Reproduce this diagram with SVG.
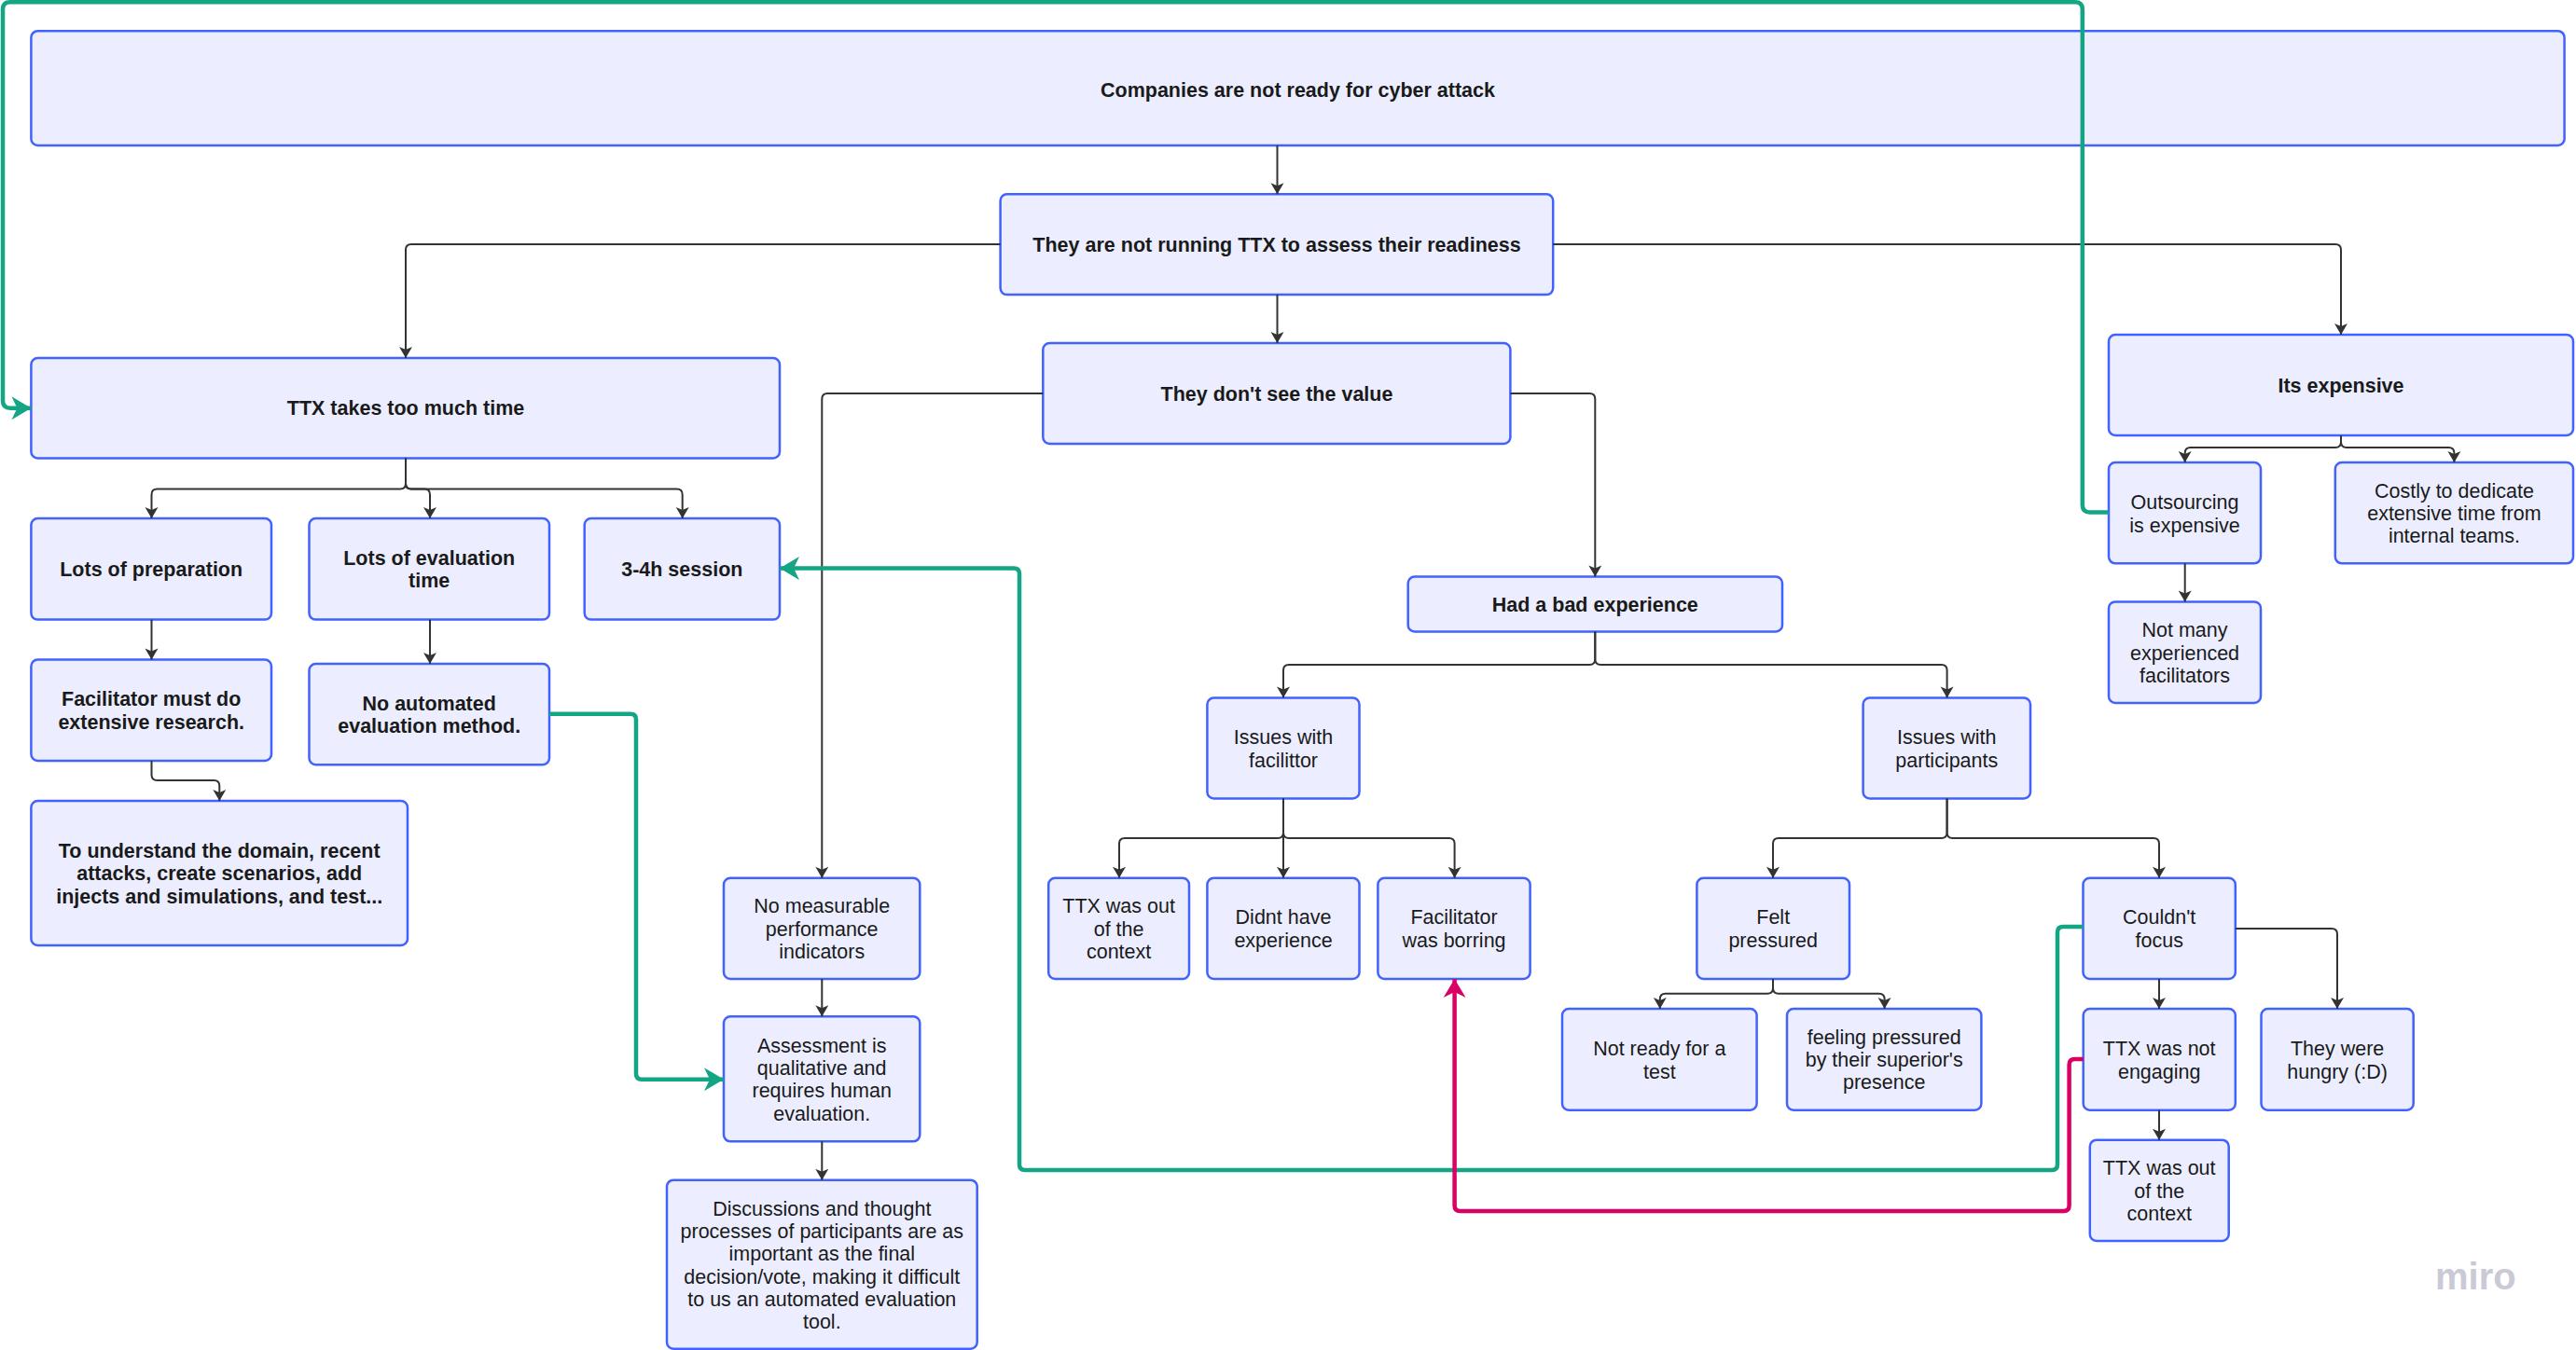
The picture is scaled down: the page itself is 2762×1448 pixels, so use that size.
<svg xmlns="http://www.w3.org/2000/svg" width="2762" height="1448" viewBox="0 0 2762 1448">
<style>
.n{fill:#ECEEFF;stroke:#4262FF;stroke-width:2.5}
.t{font-family:"Liberation Sans",Arial,sans-serif;font-size:21.5px;fill:#1a1a1a;text-anchor:middle}
.b{font-weight:bold}
.c{fill:none;stroke:#333;stroke-width:2;marker-end:url(#ar)}
.g{fill:none;stroke:#13A584;stroke-width:4.5;marker-end:url(#ag)}
.p{fill:none;stroke:#DB0065;stroke-width:4.5;marker-end:url(#ap)}
</style>
<defs>
<marker id="ar" viewBox="-13 -8 14 16" refX="0" refY="0" markerWidth="14" markerHeight="16" markerUnits="userSpaceOnUse" orient="auto"><path d="M0,0 L-12,-7 L-9,0 L-12,7 Z" fill="#333"/></marker>
<marker id="ag" viewBox="-22 -13 23 26" refX="0" refY="0" markerWidth="23" markerHeight="26" markerUnits="userSpaceOnUse" orient="auto"><path d="M0,0 L-21,-12.5 L-15,0 L-21,12.5 Z" fill="#13A584"/></marker>
<marker id="ap" viewBox="-22 -13 23 26" refX="0" refY="0" markerWidth="23" markerHeight="26" markerUnits="userSpaceOnUse" orient="auto"><path d="M0,0 L-20,-12 L-14,0 L-20,12 Z" fill="#DB0065"/></marker>
</defs>
<rect width="2762" height="1448" fill="#fff"/>
<g id="nodes">
<g id="n1"><rect class="n" x="33.4" y="33.2" width="2716.2" height="122.7" rx="7"/><text class="t b" x="1391.5" y="103.6">Companies are not ready for cyber attack</text></g>
<g id="n2"><rect class="n" x="1072.6" y="208.3" width="592.6" height="107.8" rx="7"/><text class="t b" x="1369" y="269.6">They are not running TTX to assess their readiness</text></g>
<g id="n3"><rect class="n" x="33.4" y="384" width="802.6" height="107.5" rx="7"/><text class="t b" x="435" y="444.6">TTX takes too much time</text></g>
<g id="n4"><rect class="n" x="1118.3" y="368" width="501.1" height="108" rx="7"/><text class="t b" x="1369" y="429.6">They don't see the value</text></g>
<g id="n5"><rect class="n" x="2261" y="359" width="498" height="108" rx="7"/><text class="t b" x="2510" y="420.6">Its expensive</text></g>
<g id="n6"><rect class="n" x="33.4" y="556" width="257.6" height="108.6" rx="7"/><text class="t b" x="162.2" y="617.6">Lots of preparation</text></g>
<g id="n7"><rect class="n" x="331.5" y="556" width="257.5" height="108.6" rx="7"/><text class="t b" x="460.2" y="605.5">Lots of evaluation<tspan x="460.2" dy="24.3">time</tspan></text></g>
<g id="n8"><rect class="n" x="626.7" y="556" width="209.3" height="108.6" rx="7"/><text class="t b" x="731.3" y="617.6">3-4h session</text></g>
<g id="n9"><rect class="n" x="33.4" y="707.5" width="257.6" height="108.4" rx="7"/><text class="t b" x="162.2" y="757.2">Facilitator must do<tspan x="162.2" dy="24.3">extensive research.</tspan></text></g>
<g id="n10"><rect class="n" x="331.5" y="712" width="257.5" height="108.2" rx="7"/><text class="t b" x="460.2" y="761.5">No automated<tspan x="460.2" dy="24.3">evaluation method.</tspan></text></g>
<g id="n11"><rect class="n" x="33.4" y="859" width="403.6" height="155" rx="7"/><text class="t b" x="235.2" y="920">To understand the domain, recent<tspan x="235.2" dy="24.3">attacks, create scenarios, add</tspan><tspan x="235.2" dy="24.3">injects and simulations, and test...</tspan></text></g>
<g id="n12"><rect class="n" x="1509.7" y="618.6" width="401.3" height="58.9" rx="7"/><text class="t b" x="1710.3" y="655.6">Had a bad experience</text></g>
<g id="n13"><rect class="n" x="2261" y="496" width="163" height="108.3" rx="7"/><text class="t" x="2342.5" y="546.2">Outsourcing<tspan x="2342.5" dy="24.3">is expensive</tspan></text></g>
<g id="n14"><rect class="n" x="2503.8" y="496" width="255.2" height="108.3" rx="7"/><text class="t" x="2631.4" y="533.5">Costly to dedicate<tspan x="2631.4" dy="24.3">extensive time from</tspan><tspan x="2631.4" dy="24.3">internal teams.</tspan></text></g>
<g id="n15"><rect class="n" x="2261" y="645.4" width="163" height="108.6" rx="7"/><text class="t" x="2342.5" y="683.3">Not many<tspan x="2342.5" dy="24.3">experienced</tspan><tspan x="2342.5" dy="24.3">facilitators</tspan></text></g>
<g id="n16"><rect class="n" x="1294.4" y="748.6" width="163.1" height="107.8" rx="7"/><text class="t" x="1376" y="798.2">Issues with<tspan x="1376" dy="24.3">facilittor</tspan></text></g>
<g id="n17"><rect class="n" x="1997.6" y="748.6" width="179.4" height="107.8" rx="7"/><text class="t" x="2087.3" y="798.2">Issues with<tspan x="2087.3" dy="24.3">participants</tspan></text></g>
<g id="n18"><rect class="n" x="776" y="941.8" width="210.3" height="108.2" rx="7"/><text class="t" x="881.2" y="979.4">No measurable<tspan x="881.2" dy="24.3">performance</tspan><tspan x="881.2" dy="24.3">indicators</tspan></text></g>
<g id="n19"><rect class="n" x="1124.2" y="941.8" width="150.8" height="108.2" rx="7"/><text class="t" x="1199.6" y="979.4">TTX was out<tspan x="1199.6" dy="24.3">of the</tspan><tspan x="1199.6" dy="24.3">context</tspan></text></g>
<g id="n20"><rect class="n" x="1294.4" y="941.8" width="163.1" height="108.2" rx="7"/><text class="t" x="1376" y="991.4">Didnt have<tspan x="1376" dy="24.3">experience</tspan></text></g>
<g id="n21"><rect class="n" x="1477.4" y="941.8" width="163.2" height="108.2" rx="7"/><text class="t" x="1559" y="991.4">Facilitator<tspan x="1559" dy="24.3">was borring</tspan></text></g>
<g id="n22"><rect class="n" x="1819.4" y="941.8" width="163.6" height="108.2" rx="7"/><text class="t" x="1901.2" y="991.4">Felt<tspan x="1901.2" dy="24.3">pressured</tspan></text></g>
<g id="n23"><rect class="n" x="2233.5" y="941.8" width="163.3" height="108.2" rx="7"/><text class="t" x="2315.2" y="991.4">Couldn't<tspan x="2315.2" dy="24.3">focus</tspan></text></g>
<g id="n24"><rect class="n" x="776" y="1090.3" width="210.3" height="134" rx="7"/><text class="t" x="881.2" y="1128.8">Assessment is<tspan x="881.2" dy="24.3">qualitative and</tspan><tspan x="881.2" dy="24.3">requires human</tspan><tspan x="881.2" dy="24.3">evaluation.</tspan></text></g>
<g id="n25"><rect class="n" x="1675" y="1082" width="208.6" height="108.7" rx="7"/><text class="t" x="1779.3" y="1132.2">Not ready for a<tspan x="1779.3" dy="24.3">test</tspan></text></g>
<g id="n26"><rect class="n" x="1916" y="1082" width="208.4" height="108.7" rx="7"/><text class="t" x="2020.2" y="1119.8">feeling pressured<tspan x="2020.2" dy="24.3">by their superior's</tspan><tspan x="2020.2" dy="24.3">presence</tspan></text></g>
<g id="n27"><rect class="n" x="2233.7" y="1082" width="163.1" height="108.7" rx="7"/><text class="t" x="2315.2" y="1132.2">TTX was not<tspan x="2315.2" dy="24.3">engaging</tspan></text></g>
<g id="n28"><rect class="n" x="2424.5" y="1082" width="163.2" height="108.7" rx="7"/><text class="t" x="2506.1" y="1132.2">They were<tspan x="2506.1" dy="24.3">hungry (:D)</tspan></text></g>
<g id="n29"><rect class="n" x="715" y="1265.7" width="332.7" height="181" rx="7"/><text class="t" x="881.3" y="1303.6">Discussions and thought<tspan x="881.3" dy="24.3">processes of participants are as</tspan><tspan x="881.3" dy="24.3">important as the final</tspan><tspan x="881.3" dy="24.3">decision/vote, making it difficult</tspan><tspan x="881.3" dy="24.3">to us an automated evaluation</tspan><tspan x="881.3" dy="24.3">tool.</tspan></text></g>
<g id="n30"><rect class="n" x="2240.8" y="1222.7" width="148.9" height="108.3" rx="7"/><text class="t" x="2315.2" y="1260.4">TTX was out<tspan x="2315.2" dy="24.3">of the</tspan><tspan x="2315.2" dy="24.3">context</tspan></text></g>
</g>
<g id="connectors">
<path class="c" d="M1369.5,156 V208.3"/>
<path class="c" d="M1072.6,262 H441 Q435,262 435,268 V384"/>
<path class="c" d="M1369.5,316 V368"/>
<path class="c" d="M1665.2,262 H2504 Q2510,262 2510,268 V359"/>
<path class="c" d="M435,491.5 V518.6 Q435,524.6 429,524.6 H168.5 Q162.5,524.6 162.5,530.6 V556"/>
<path class="c" d="M435,491.5 V518.6 Q435,524.6 441,524.6 H455 Q461,524.6 461,530.6 V556"/>
<path class="c" d="M435,491.5 V518.6 Q435,524.6 441,524.6 H725.7 Q731.7,524.6 731.7,530.6 V556"/>
<path class="c" d="M162.5,664.6 V707.5"/>
<path class="c" d="M461,664.6 V712"/>
<path class="c" d="M162.5,815.9 V831 Q162.5,837 168.5,837 H229.3 Q235.3,837 235.3,843 V859"/>
<path class="c" d="M1118.3,422 H887.3 Q881.3,422 881.3,428 V941.8"/>
<path class="c" d="M1619.4,422 H1704.3 Q1710.3,422 1710.3,428 V618.6"/>
<path class="c" d="M1710.3,677.5 V707 Q1710.3,713 1704.3,713 H1382 Q1376,713 1376,719 V748.6"/>
<path class="c" d="M1710.3,677.5 V707 Q1710.3,713 1716.3,713 H2081.6 Q2087.6,713 2087.6,719 V748.6"/>
<path class="c" d="M1376,856.4 V893 Q1376,899 1370,899 H1206 Q1200,899 1200,905 V941.8"/>
<path class="c" d="M1376,856.4 V941.8"/>
<path class="c" d="M1376,856.4 V893 Q1376,899 1382,899 H1553.6 Q1559.6,899 1559.6,905 V941.8"/>
<path class="c" d="M2087.6,856.4 V893 Q2087.6,899 2081.6,899 H1907 Q1901,899 1901,905 V941.8"/>
<path class="c" d="M2087.6,856.4 V893 Q2087.6,899 2093.6,899 H2309 Q2315,899 2315,905 V941.8"/>
<path class="c" d="M2510,467 V474 Q2510,480 2504,480 H2348.7 Q2342.7,480 2342.7,486 V496"/>
<path class="c" d="M2510,467 V474 Q2510,480 2516,480 H2625.4 Q2631.4,480 2631.4,486 V496"/>
<path class="c" d="M2342.7,604.3 V645.4"/>
<path class="c" d="M881.3,1050 V1090.3"/>
<path class="c" d="M881.3,1224.3 V1265.7"/>
<path class="c" d="M1901,1050 V1059.7 Q1901,1065.7 1895,1065.7 H1785.8 Q1779.8,1065.7 1779.8,1071.7 V1082"/>
<path class="c" d="M1901,1050 V1059.7 Q1901,1065.7 1907,1065.7 H2014.6 Q2020.6,1065.7 2020.6,1071.7 V1082"/>
<path class="c" d="M2315,1050 V1082"/>
<path class="c" d="M2396.8,996 H2500 Q2506,996 2506,1002 V1082"/>
<path class="c" d="M2315,1190.7 V1222.7"/>
<path class="g" d="M2261,549.6 H2240.8 Q2232.8,549.6 2232.8,541.6 V10 Q2232.8,2.3 2224.8,2.3 H11 Q3,2.3 3,10 V429.8 Q3,437.8 11,437.8 H33.4"/>
<path class="g" d="M589,765.7 H676 Q682,765.7 682,771.7 V1151.7 Q682,1157.7 688,1157.7 H776"/>
<path class="g" d="M2233.5,994 H2212 Q2206,994 2206,1000 V1249 Q2206,1255 2200,1255 H1099 Q1093,1255 1093,1249 V615.6 Q1093,609.6 1087,609.6 H836"/>
<path class="p" d="M2233.7,1136 H2224.6 Q2218.6,1136 2218.6,1142 V1293 Q2218.6,1299 2212.6,1299 H1565.6 Q1559.6,1299 1559.6,1293 V1050"/>
</g>
<text x="2611" y="1383" font-family="'Liberation Sans',Arial,sans-serif" font-size="40" font-weight="bold" fill="#CACAD6">miro</text>
</svg>
